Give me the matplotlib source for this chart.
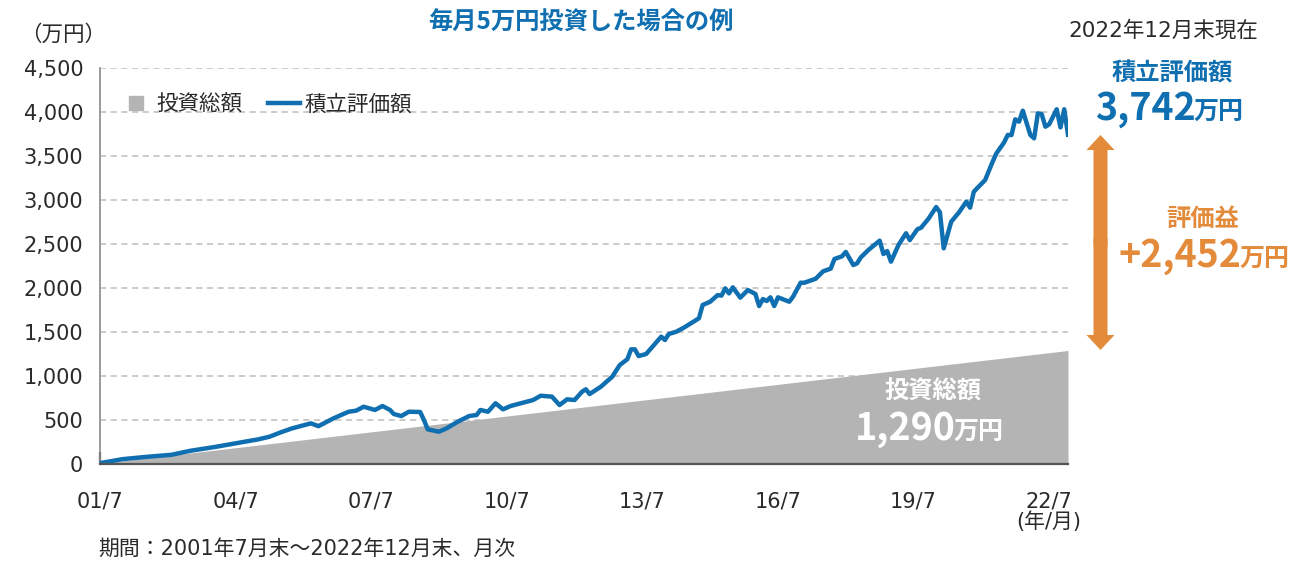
import matplotlib
matplotlib.use('Agg')
from matplotlib import pyplot as plt
from matplotlib.lines import Line2D
from matplotlib.patches import FancyArrow
from matplotlib.transforms import IdentityTransform

plt.rcParams['font.family'] = ['Noto Sans CJK JP', 'DejaVu Sans']
plain = ['DejaVu Sans', 'Noto Sans CJK JP']   # wide digits like the original

# months counted from 2001/7 (0) to 2022/12 (257)
value_months = [0, 6, 12, 19, 24, 31, 36, 42, 45, 48, 51, 56, 58, 62, 66, 68, 70, 73, 75, 77,
                78, 80, 82, 85, 86, 87, 90, 92, 95, 98, 100, 101, 103, 105, 107, 109, 111, 115, 117, 120,
                122, 124, 126, 128, 129, 130, 133, 136, 138, 140, 141, 142, 143, 145, 149, 150, 151, 153, 155, 159,
                160, 162, 164, 165, 166, 167, 168, 170, 172, 174, 175, 176, 177, 178, 179, 180, 183, 184, 186, 187,
                190, 192, 194, 195, 197, 198, 200, 201, 202, 204, 207, 208, 209, 210, 212, 214, 215, 217, 218, 220,
                222, 223, 224, 226, 228, 230, 231, 232, 235, 237, 238, 240, 241, 242, 243, 244, 245, 247, 248, 249,
                250, 251, 252, 254, 255, 256, 257]
value_totals = [10, 55, 80, 105, 150, 197, 235, 280, 310, 360, 405, 462, 430, 519, 594, 606, 651, 614, 659, 614,
                568, 545, 594, 591, 500, 394, 367, 405, 481, 545, 557, 614, 594, 690, 621, 659, 682, 727, 776, 765,
                670, 735, 727, 822, 849, 795, 879, 992, 1125, 1190, 1303, 1303, 1227, 1250, 1447, 1409, 1477, 1503, 1549, 1655,
                1807, 1844, 1920, 1913, 1996, 1939, 2008, 1890, 1977, 1932, 1795, 1875, 1852, 1894, 1795, 1894, 1844, 1901, 2060, 2060,
                2105, 2190, 2220, 2330, 2360, 2410, 2261, 2280, 2348, 2432, 2538, 2386, 2420, 2299, 2489, 2622, 2545, 2667, 2685, 2790,
                2920, 2860, 2451, 2754, 2856, 2981, 2913, 3095, 3227, 3436, 3531, 3652, 3739, 3739, 3917, 3890, 4015, 3739, 3701, 3985,
                3977, 3833, 3860, 4031, 3825, 4031, 3742]

invest_months = [0, 257]
invest_totals = [5, 1290]

tick_months = [0, 36, 72, 108, 144, 180, 216, 252]
tick_labels = ['01/7', '04/7', '07/7', '10/7', '13/7', '16/7', '19/7', '22/7\n(年/月)']

blue = '#0f6fb0'
orange = '#e38b3b'
gray = '#b4b4b4'
txt = '#2a2a2a'

W, H = 1294, 562
fig = plt.figure(figsize=(W / 100, H / 100), dpi=100)
ax = fig.add_axes([100 / W, 1 - 464 / H, 968 / W, 396 / H])

ax.fill_between(invest_months, 0, invest_totals, color=gray, lw=0, zorder=1)
ax.plot(value_months, value_totals, color=blue, lw=3.2, zorder=3, solid_joinstyle='round')

ax.set_xlim(0, 257)
ax.set_ylim(0, 4500)
ax.set_yticks(range(0, 4501, 500))
ax.set_yticklabels([f'{v:,}' for v in range(0, 4501, 500)], family=plain)
ax.set_xticks(tick_months)
ax.set_xticklabels(tick_labels, linespacing=1.0, va='top', family=plain)
ax.tick_params(axis='y', length=0, pad=12, labelsize=15, labelcolor=txt)
ax.tick_params(axis='x', direction='in', length=9, width=1.6, color='#444444', pad=20,
               labelsize=15, labelcolor=txt)
ax.grid(axis='y', color='#bdbdbd', lw=1.1, linestyle=(0, (4, 3)), zorder=0)
ax.set_axisbelow(True)
for s in ['top', 'right']:
    ax.spines[s].set_visible(False)
ax.spines['left'].set_color('#8a8a8a')
ax.spines['left'].set_linewidth(1.2)
ax.spines['bottom'].set_color('#555555')
ax.spines['bottom'].set_linewidth(1.6)
ax.spines['bottom'].set_zorder(4)

handles = [Line2D([], [], marker='s', ls='none', color=gray, markersize=10),
           Line2D([], [], color=blue, lw=3.2)]
leg = ax.legend(handles, ['投資総額', '積立評価額'], loc='upper left', bbox_to_anchor=(0.0, 0.985),
                ncol=2, frameon=False, fontsize=15.5, handlelength=1.5, handletextpad=0.2,
                columnspacing=1.2)
for t in leg.get_texts():
    t.set_color(txt)


def fx(px):
    return px / W


def fy(py):
    return 1 - py / H


fig.text(fx(20), fy(35), '（万円）', fontsize=15.5, va='center', ha='left', color=txt)
fig.text(fx(581), fy(23), '毎月5万円投資した場合の例', fontsize=17.5, fontweight='bold',
         color=blue, ha='center', va='center')
fig.text(fx(1068), fy(30), '2022年12月末現在', fontsize=15.5, ha='left', va='center', color=txt,
         family=plain)

fig.text(fx(1172), fy(74), '積立評価額', fontsize=17.5, fontweight='bold', color=blue, ha='center', va='center')
fig.text(fx(1196), fy(120), '3,742', fontsize=27, fontweight='bold', color=blue, ha='right', va='baseline')
fig.text(fx(1194), fy(120), '万円', fontsize=18, fontweight='bold', color=blue, ha='left', va='baseline')

fig.text(fx(1203), fy(219), '評価益', fontsize=17.5, fontweight='bold', color=orange, ha='center', va='center')
fig.text(fx(1241), fy(267), '+2,452', fontsize=27, fontweight='bold', color=orange, ha='right', va='baseline')
fig.text(fx(1239), fy(267), '万円', fontsize=18, fontweight='bold', color=orange, ha='left', va='baseline')

fig.text(fx(933), fy(392), '投資総額', fontsize=17.5, fontweight='bold', color='white', ha='center', va='center')
fig.text(fx(956), fy(440), '1,290', fontsize=27, fontweight='bold', color='white', ha='right', va='baseline')
fig.text(fx(954), fy(440), '万円', fontsize=18, fontweight='bold', color='white', ha='left', va='baseline')

fig.text(fx(98), fy(549), '期間：2001年7月末～2022年12月末、月次', fontsize=15, ha='left', va='center',
         color=txt, family=plain)

# double-headed arrow from invested total to valuation
mid = H - (135 + 350) / 2
for d in (1, -1):
    fig.add_artist(FancyArrow(1100.5, mid - d * 4, 0, d * 111.5, width=14, head_width=28, head_length=15,
                              length_includes_head=True, color=orange, lw=0,
                              transform=IdentityTransform()))

fig.savefig('out.png', dpi=100)
